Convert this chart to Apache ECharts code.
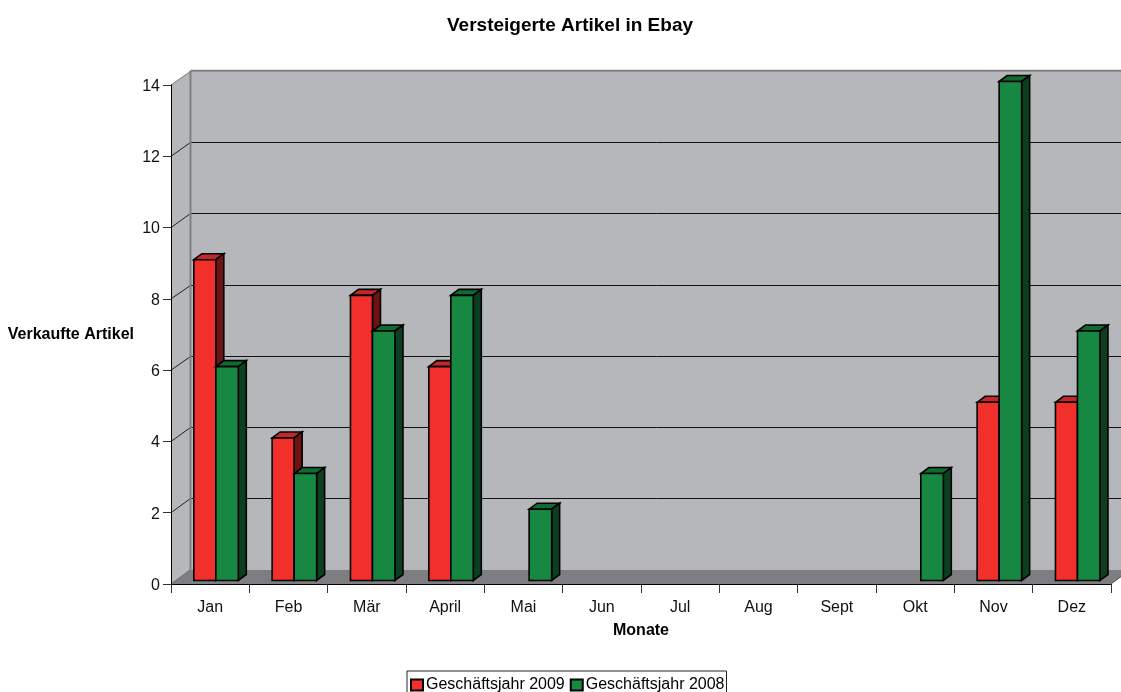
<!DOCTYPE html>
<html>
<head>
<meta charset="utf-8">
<style>
  html, body { margin: 0; padding: 0; background: #fff; }
  #chart { width: 1121px; height: 692px; }
</style>
<script src="https://cdn.jsdelivr.net/npm/echarts@6/dist/echarts.min.js"></script>
</head>
<body>
<div id="chart"></div>
<script>
const months = ['Jan', 'Feb', 'Mär', 'April', 'Mai', 'Jun', 'Jul', 'Aug', 'Sept', 'Okt', 'Nov', 'Dez']
const sales2009 = [9, 4, 8, 6, 0, 0, 0, 0, 0, 0, 5, 5]
const sales2008 = [6, 3, 7, 8, 2, 0, 0, 0, 0, 3, 14, 7]
const yTicks = [2, 4, 6, 8, 10, 12, 14]

const fontFamily = '"Liberation Sans", Arial, sans-serif'
// fake 3d: depth of the walls and of the bars
const wallDx = 19.5
const wallDy = -14.3
const barDx = 8
const barDy = -6

function poly(points, fill, stroke, lineWidth) {
  return {
    type: 'polygon',
    shape: { points },
    style: { fill, stroke: stroke || null, lineWidth: lineWidth || 0 }
  }
}

function line(x1, y1, x2, y2, stroke, lineWidth) {
  return {
    type: 'line',
    shape: { x1, y1, x2, y2 },
    style: { stroke, lineWidth: lineWidth || 1 }
  }
}

function renderWalls(params, api) {
  const sys = params.coordSys
  const x0 = sys.x
  const x1 = sys.x + sys.width
  const bottom = api.coord([0, 0])[1]
  const top = api.coord([0, 14])[1]
  const backX = x0 + wallDx
  const wallColor = '#b6b7bb'
  const edgeColor = '#808084'
  const children = [
    poly([[backX, top + wallDy], [x1 + wallDx, top + wallDy], [x1 + wallDx, bottom + wallDy], [backX, bottom + wallDy]], wallColor),
    poly([[x0, top], [backX, top + wallDy], [backX, bottom + wallDy], [x0, bottom]], wallColor),
    poly([[x0, bottom], [backX, bottom + wallDy], [x1 + wallDx, bottom + wallDy], [x1, bottom]], '#7e7e82')
  ]
  yTicks.forEach((v) => {
    const y = Math.round(api.coord([0, v])[1] + wallDy) + 0.5
    if (v !== 14) {
      children.push(line(backX, y, x1 + wallDx, y, '#111', 1))
    }
    children.push(line(x0, api.coord([0, v])[1], backX, y, v === 14 ? edgeColor : '#222', 1))
  })
  children.push(line(x0, bottom, backX, bottom + wallDy, '#666', 1))
  children.push(line(backX, top + wallDy, x1 + wallDx, top + wallDy, edgeColor, 2))
  children.push(line(backX, top + wallDy, backX, bottom + wallDy, edgeColor, 2))
  children.push(line(x1, bottom, x1 + wallDx, bottom + wallDy, '#555', 1))
  return { type: 'group', children }
}

function barRenderer(offset, width, colors) {
  return function (params, api) {
    const value = api.value(1)
    if (!value) {
      return null
    }
    const center = api.coord([api.value(0), value])
    const band = api.size([1, 0])[0]
    const l = center[0] - band / 2 + offset
    const r = l + width
    const t = center[1] - 3.5
    const b = api.coord([api.value(0), 0])[1] - 3.5
    const edge = { stroke: '#000', lw: 1.6 }
    return {
      type: 'group',
      children: [
        poly([[l, t], [l + barDx, t + barDy], [r + barDx, t + barDy], [r, t]], colors.top, edge.stroke, edge.lw),
        poly([[r, t], [r + barDx, t + barDy], [r + barDx, b + barDy], [r, b]], colors.side, edge.stroke, edge.lw),
        poly([[l, t], [r, t], [r, b], [l, b]], colors.front, edge.stroke, edge.lw)
      ]
    }
  }
}

const red = { front: '#f2302b', top: '#c4262a', side: '#6f1212' }
const green = { front: '#168841', top: '#116a32', side: '#0c3f20' }

const chart = echarts.init(document.getElementById('chart'), null, { renderer: 'canvas' })
chart.setOption({
  animation: false,
  backgroundColor: '#fff',
  title: {
    text: 'Versteigerte Artikel in Ebay',
    left: 565,
    textAlign: 'center',
    top: 11,
    textStyle: { fontFamily, fontSize: 19, fontWeight: 'bold', color: '#000' }
  },
  legend: {
    data: ['Geschäftsjahr 2009', 'Geschäftsjahr 2008'],
    left: 407,
    top: 671,
    orient: 'horizontal',
    padding: [6, 2, 4, 3],
    itemGap: 5,
    itemWidth: 12,
    itemHeight: 11,
    icon: 'rect',
    borderColor: '#222',
    borderWidth: 1,
    textStyle: { fontFamily, fontSize: 16, color: '#000', padding: [0, 0, 0, -2] }
  },
  grid: { left: 171, right: 10, top: 85, bottom: 108, outerBoundsMode: 'none' },
  xAxis: {
    type: 'category',
    data: months,
    name: 'Monate',
    nameLocation: 'middle',
    nameGap: 39,
    nameTextStyle: { fontFamily, fontSize: 16, fontWeight: 'bold', color: '#000' },
    z: 5,
    axisLine: { lineStyle: { color: '#000', width: 1 } },
    axisTick: { show: true, length: 9, alignWithLabel: false, lineStyle: { color: '#333', width: 1 } },
    axisLabel: { fontFamily, fontSize: 16, color: '#111', margin: 16, interval: 0 }
  },
  yAxis: {
    type: 'value',
    min: 0,
    max: 14,
    interval: 2,
    name: 'Verkaufte Artikel',
    nameLocation: 'middle',
    nameRotate: 0,
    nameGap: 37,
    nameTextStyle: { fontFamily, fontSize: 16, fontWeight: 'bold', color: '#000' },
    z: 5,
    axisLine: { show: true, lineStyle: { color: '#000', width: 1 } },
    axisTick: { show: true, length: 8, lineStyle: { color: '#333', width: 1 } },
    axisLabel: { fontFamily, fontSize: 16, color: '#111', margin: 11, verticalAlign: 'top', lineHeight: 3 },
    splitLine: { show: false }
  },
  series: [
    {
      name: 'walls',
      type: 'custom',
      clip: false,
      silent: true,
      z: 1,
      data: [[0, 0]],
      encode: { x: 0, y: 1 },
      renderItem: renderWalls
    },
    {
      name: 'Geschäftsjahr 2009',
      type: 'custom',
      clip: false,
      z: 3,
      itemStyle: { color: red.front, borderColor: '#000', borderWidth: 1.5 },
      data: sales2009.map((v, i) => [i, v]),
      encode: { x: 0, y: 1 },
      renderItem: barRenderer(22.8, 22, red)
    },
    {
      name: 'Geschäftsjahr 2008',
      type: 'custom',
      clip: false,
      z: 4,
      itemStyle: { color: green.front, borderColor: '#000', borderWidth: 1.5 },
      data: sales2008.map((v, i) => [i, v]),
      encode: { x: 0, y: 1 },
      renderItem: barRenderer(44.8, 22.5, green)
    }
  ]
})
</script>
</body>
</html>
